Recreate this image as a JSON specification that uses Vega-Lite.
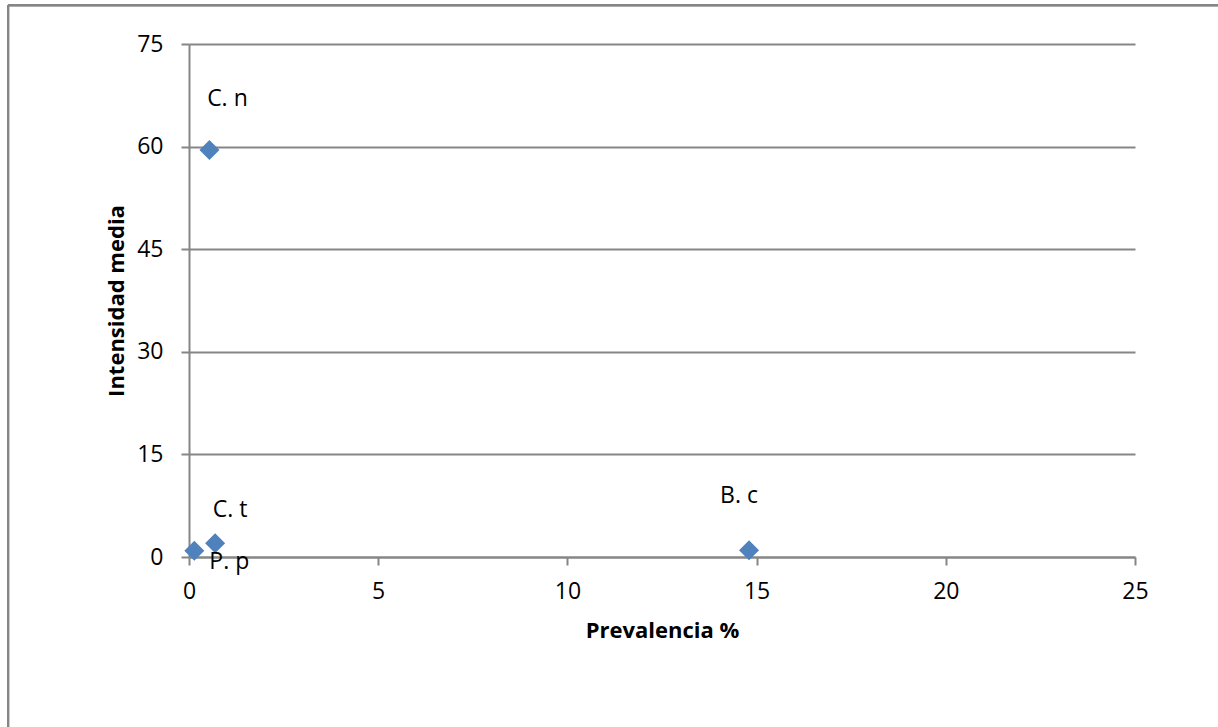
{
  "$schema": "https://vega.github.io/schema/vega-lite/v6.json",
  "width": 946,
  "height": 513,
  "autosize": {"type": "none"},
  "padding": {"left": 189, "top": 44, "right": 83, "bottom": 170},
  "background": "white",
  "config": {
    "view": {"stroke": null},
    "font": "Open Sans",
    "axis": {"labelFont": "Open Sans", "titleFont": "Open Sans", "labelColor": "#000000", "titleColor": "#000000", "labelFlush": false, "labelOverlap": false}
  },
  "data": {
    "values": [
      {"especie": "P. p", "prevalencia": 0.14, "intensidad": 0.92},
      {"especie": "C. t", "prevalencia": 0.69, "intensidad": 2.0},
      {"especie": "C. n", "prevalencia": 0.54, "intensidad": 59.5},
      {"especie": "B. c", "prevalencia": 14.8, "intensidad": 1.0}
    ]
  },
  "layer": [
    {
      "mark": {"type": "rule", "stroke": "#868686", "strokeWidth": 2, "clip": false},
      "encoding": {
        "x": {"datum": -4.78, "type": "quantitative", "scale": {"domain": [0, 25], "nice": false, "zero": false}},
        "y": {"datum": 80.65, "type": "quantitative", "scale": {"domain": [0, 75], "nice": false, "zero": false}},
        "y2": {"datum": -40}
      }
    },
    {
      "mark": {"type": "rule", "stroke": "#868686", "strokeWidth": 2, "clip": false},
      "encoding": {
        "x": {"datum": -4.78, "type": "quantitative"},
        "x2": {"datum": 40},
        "y": {"datum": 80.65, "type": "quantitative"}
      }
    },
    {
      "mark": {"type": "point", "shape": "diamond", "filled": true, "size": 400, "color": "#4F81BD", "opacity": 1},
      "encoding": {
        "x": {
          "field": "prevalencia",
          "type": "quantitative",
          "scale": {"domain": [0, 25], "nice": false, "zero": false},
          "axis": {
            "title": "Prevalencia %",
            "values": [0, 5, 10, 15, 20, 25],
            "grid": false,
            "domainColor": "#868686",
            "domainWidth": 2,
            "tickColor": "#868686",
            "tickWidth": 2,
            "tickSize": 8,
            "labelFontSize": 23,
            "labelPadding": 15,
            "titleFontSize": 22,
            "titleFontWeight": "bold",
            "titlePadding": 17
          }
        },
        "y": {
          "field": "intensidad",
          "type": "quantitative",
          "scale": {"domain": [0, 75], "nice": false, "zero": false},
          "axis": {
            "title": "Intensidad media",
            "values": [0, 15, 30, 45, 60, 75],
            "grid": true,
            "gridColor": "#868686",
            "gridWidth": 2,
            "domainColor": "#868686",
            "domainWidth": 2,
            "tickColor": "#868686",
            "tickWidth": 2,
            "tickSize": 8,
            "labelFontSize": 23,
            "labelPadding": 18,
            "titleFontSize": 22,
            "titleFontWeight": "bold",
            "titlePadding": 8
          }
        }
      }
    },
    {
      "transform": [{"filter": "datum.especie == 'C. n'"}],
      "mark": {"type": "text", "fontSize": 23, "align": "center", "baseline": "middle", "dx": 18, "dy": -51, "color": "#000000"},
      "encoding": {"x": {"field": "prevalencia", "type": "quantitative"}, "y": {"field": "intensidad", "type": "quantitative"}, "text": {"field": "especie"}}
    },
    {
      "transform": [{"filter": "datum.especie == 'C. t'"}],
      "mark": {"type": "text", "fontSize": 23, "align": "center", "baseline": "middle", "dx": 15, "dy": -33, "color": "#000000"},
      "encoding": {"x": {"field": "prevalencia", "type": "quantitative"}, "y": {"field": "intensidad", "type": "quantitative"}, "text": {"field": "especie"}}
    },
    {
      "transform": [{"filter": "datum.especie == 'P. p'"}],
      "mark": {"type": "text", "fontSize": 23, "align": "center", "baseline": "middle", "dx": 35, "dy": 11, "color": "#000000"},
      "encoding": {"x": {"field": "prevalencia", "type": "quantitative"}, "y": {"field": "intensidad", "type": "quantitative"}, "text": {"field": "especie"}}
    },
    {
      "transform": [{"filter": "datum.especie == 'B. c'"}],
      "mark": {"type": "text", "fontSize": 23, "align": "center", "baseline": "middle", "dx": -10, "dy": -54, "color": "#000000"},
      "encoding": {"x": {"field": "prevalencia", "type": "quantitative"}, "y": {"field": "intensidad", "type": "quantitative"}, "text": {"field": "especie"}}
    }
  ]
}
